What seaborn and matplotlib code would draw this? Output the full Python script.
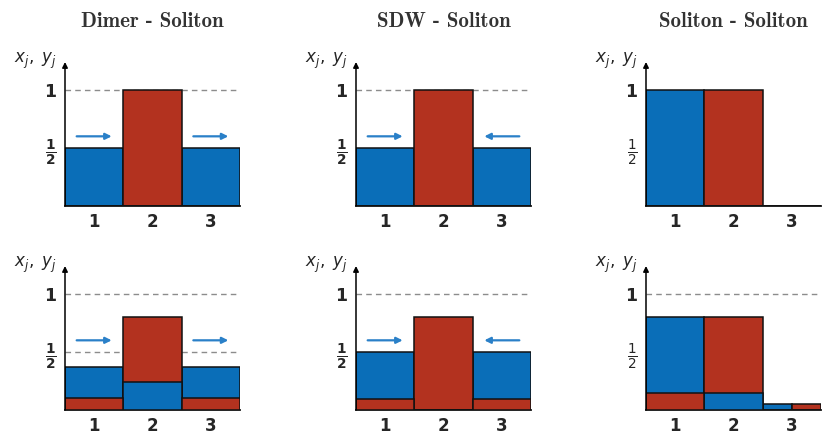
import numpy as np
import pandas as pd
import matplotlib
matplotlib.use('Agg')
import matplotlib.pyplot as plt
import seaborn as sns

# sites and panel titles
sites = ['1', '2', '3']
titles = ['Dimer - Soliton', 'SDW - Soliton', 'Soliton - Soliton']

# x_j (blue) and y_j (red) occupations, top row then bottom row
x_top = [[0.5, 0.0, 0.5], [0.5, 0.0, 0.5], [1.0, 0.0, 0.0]]
y_top = [[0.0, 1.0, 0.0], [0.0, 1.0, 0.0], [0.0, 1.0, 0.0]]
x_bot = [[0.37, 0.245, 0.37], [0.50, 0.0, 0.50], [0.80, 0.145, 0.05]]
y_bot = [[0.10, 0.80, 0.10], [0.095, 0.80, 0.095], [0.145, 0.80, 0.05]]

# arrow directions per panel (site 1, site 3), 0 = none
arrow_dirs = [[1, 1], [1, -1], [0, 0]]
dashed_top = [[1.0], [1.0], []]
dashed_bot = [[1.0, 0.5], [1.0], [1.0]]

blue = '#0a6eb8'
red = '#b3321f'
arrow_col = '#2a80c8'

sns.set_style('white')
plt.rcParams['font.family'] = ['DejaVu Sans']

fig = plt.figure(figsize=(8.3, 4.45), dpi=100)

col_x = [65, 356, 646]
row_y = [206, 410]
W, H = 830, 445
aw, ah = 175, 144
ytop = 1.24


def draw_panel(ax, xs, ys, lines, arrows, bold_half):
    df = pd.DataFrame({'site': sites, 'x': xs, 'y': ys})
    for ln in lines:
        ax.axhline(ln, color='#8c8c8c', ls=(0, (4, 3)), lw=1.0, zorder=0)
    sns.barplot(data=df, x='site', y='x', color=blue, width=1.0, saturation=1,
                edgecolor='#111111', linewidth=1.1, ax=ax, zorder=2)
    sns.barplot(data=df, x='site', y='y', color=red, width=1.0, saturation=1,
                edgecolor='#111111', linewidth=1.1, ax=ax, zorder=2)
    pb = ax.patches[:3]
    pr = ax.patches[3:6]
    for i in range(3):
        bx, ry = xs[i], ys[i]
        if bx > 0 and bx == ry:
            # equal occupations: share the site side by side
            w = pb[i].get_width() / 2
            pb[i].set_width(w)
            pr[i].set_x(pr[i].get_x() + w)
            pr[i].set_width(w)
        elif bx < ry:
            pb[i].set_zorder(3)
        else:
            pr[i].set_zorder(3)
    ax.set_xlim(-0.5, 2.5)
    ax.set_ylim(0, ytop)
    ax.set_xlabel('')
    ax.set_ylabel('')
    ax.set_yticks([0.5, 1.0])
    ax.set_yticklabels([r'$\mathbf{\frac{1}{2}}$' if bold_half else r'$\frac{1}{2}$', '1'])
    ylabs = ax.get_yticklabels()
    ylabs[0].set_fontsize(14)
    ylabs[1].set_fontsize(12.5)
    for t in ylabs:
        t.set_fontweight('bold')
    for t in ax.get_xticklabels():
        t.set_fontsize(12)
        t.set_fontweight('bold')
    ax.tick_params(length=0, pad=6)
    ax.tick_params(axis='x', pad=5)
    sns.despine(ax=ax, top=True, right=True, left=True)
    ax.spines['bottom'].set_linewidth(1.3)
    ax.spines['bottom'].set_color('#111111')
    # y axis with arrow
    ax.annotate('', xy=(0, 1.0), xytext=(0, 0), xycoords='axes fraction',
                arrowprops=dict(arrowstyle='-|>', color='black', lw=1.1,
                                mutation_scale=8, shrinkA=0, shrinkB=0))
    ax.text(-0.045, 1.01, r'$x_j,\ y_j$', transform=ax.transAxes,
            ha='right', va='center', fontsize=12, math_fontfamily='dejavusans')
    for k, d in zip([0, 2], arrows):
        if d == 0:
            continue
        a, b = (k - 0.3, k + 0.3) if d > 0 else (k + 0.3, k - 0.3)
        ax.annotate('', xy=(b, 0.6), xytext=(a, 0.6),
                    arrowprops=dict(arrowstyle='-|>', color=arrow_col, lw=1.6,
                                    mutation_scale=9, shrinkA=0, shrinkB=0),
                    zorder=4)
    ax.patch.set_alpha(0)


for c in range(3):
    for r in range(2):
        left = col_x[c] / W
        bottom = (H - row_y[r]) / H
        ax = fig.add_axes([left, bottom, aw / W, ah / H])
        if r == 0:
            draw_panel(ax, x_top[c], y_top[c], dashed_top[c], arrow_dirs[c], c < 2)
            ax.text(0.5, 1.28, titles[c], transform=ax.transAxes,
                    ha='center', va='center', fontsize=15, family='cmb10',
                    color='#333333')
        else:
            draw_panel(ax, x_bot[c], y_bot[c], dashed_bot[c], arrow_dirs[c], c < 2)

fig.savefig('out.png', dpi=100)
